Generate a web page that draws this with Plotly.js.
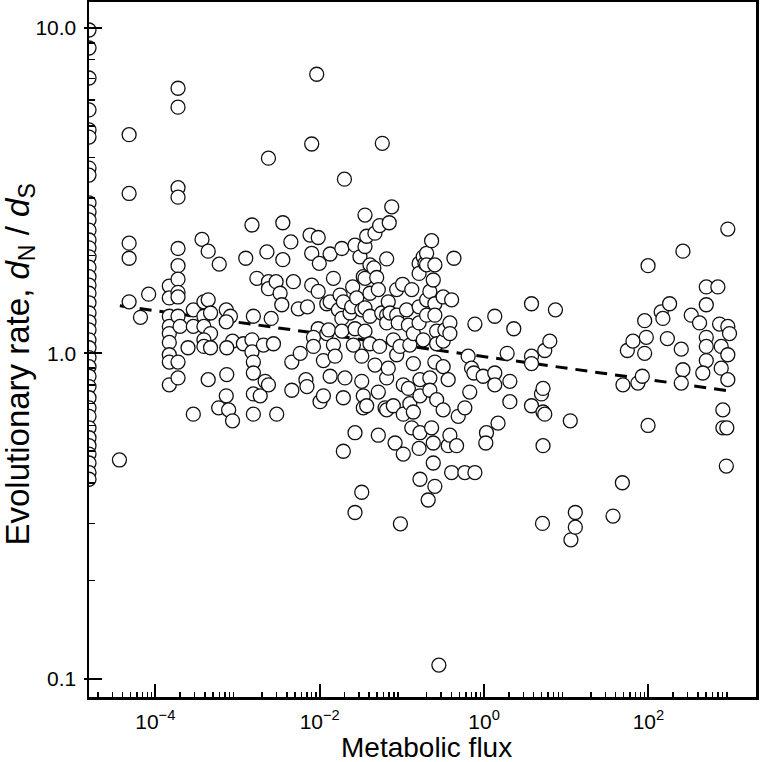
<!DOCTYPE html>
<html>
<head>
<meta charset="utf-8">
<script src="https://cdn.plot.ly/plotly-3.0.1.min.js"></script>
<style>html,body{margin:0;padding:0;background:#fff;}#chart{width:760px;height:762px;}</style>
</head>
<body>
<div id="chart"></div>
<script>
// Points whose flux lies at/below the left end of the axis (drawn on the axis line)
const edgeFlux = 1.56e-5;
const edgeRate = [9.86, 8.68, 7.02, 5.60, 4.86, 4.62, 3.71, 3.53, 2.90, 2.72, 2.57, 2.39, 2.23, 2.11,
  1.98, 1.84, 1.72, 1.62, 1.53, 1.43, 1.33, 1.25, 1.18, 1.10, 1.04, 0.97, 0.91, 0.85, 0.79, 0.73,
  0.68, 0.64, 0.59, 0.55, 0.52, 0.49, 0.46, 0.43, 0.41];

// Metabolic flux of each enzyme
const flux = [
  3.66e-5, 4.8e-5, 4.8e-5, 4.8e-5, 4.8e-5, 4.8e-5, 6.6e-5, 8.3e-5,
  1.48e-4, 1.48e-4, 1.48e-4, 1.48e-4, 1.48e-4, 1.48e-4, 1.48e-4, 1.48e-4, 1.48e-4,
  1.89e-4, 1.89e-4, 1.89e-4, 1.89e-4, 1.89e-4, 1.89e-4, 1.89e-4, 1.89e-4, 1.89e-4, 1.89e-4, 1.89e-4, 1.89e-4, 2.0e-4,
  2.5e-4, 2.9e-4, 2.9e-4, 2.9e-4, 3.7e-4, 4.4e-4, 6.0e-4, 3.9e-4, 4.4e-4, 3.9e-4, 4.7e-4, 3.9e-4, 4.7e-4, 3.9e-4,
  3.9e-4, 4.7e-4, 4.4e-4, 7.3e-4, 8.2e-4, 7.3e-4, 8.7e-4, 7.4e-4, 7.4e-4, 7.3e-4, 5.9e-4, 7.8e-4, 8.7e-4,
  1.18e-3, 1.26e-3, 1.5e-3, 1.5e-3, 1.5e-3, 1.56e-3, 1.56e-3, 1.56e-3, 1.56e-3, 1.56e-3, 1.72e-3, 1.89e-3,
  2.07e-3, 2.17e-3, 2.38e-3, 2.28e-3, 2.38e-3, 2.38e-3, 2.38e-3, 2.57e-3, 2.74e-3, 2.95e-3, 3.0e-3, 3.3e-3,
  3.46e-3, 3.56e-3, 3.56e-3, 4.46e-3, 4.58e-3, 4.58e-3, 4.79e-3, 5.5e-3, 5.8e-3, 6.8e-3, 7.0e-3, 7.1e-3,
  7.64e-3, 8.0e-3, 8.0e-3, 8.0e-3, 9.2e-3, 9.6e-3, 9.9e-3, 9.6e-3, 9.6e-3, 8.4e-3, 8.4e-3, 1.01e-2, 1.11e-2, 1.11e-2,
  1.22e-2, 1.22e-2, 1.28e-2, 1.34e-2, 1.34e-2, 1.34e-2, 1.47e-2, 1.47e-2, 1.54e-2, 1.77e-2, 1.69e-2, 1.86e-2,
  1.86e-2, 1.86e-2, 1.94e-2, 1.94e-2, 1.94e-2, 2.0e-2, 2.03e-2, 2.34e-2, 2.45e-2, 2.52e-2, 2.57e-2, 2.69e-2,
  2.69e-2, 2.69e-2, 2.69e-2, 2.82e-2, 3.09e-2, 3.25e-2, 3.25e-2, 3.25e-2, 3.25e-2, 3.39e-2, 3.39e-2, 3.39e-2,
  3.56e-2, 3.56e-2, 3.56e-2, 3.56e-2, 3.56e-2, 3.73e-2, 3.73e-2, 4.09e-2, 4.09e-2, 4.09e-2, 4.09e-2, 4.56e-2,
  4.7e-2, 4.71e-2, 4.94e-2, 5.17e-2, 5.17e-2, 5.17e-2, 5.36e-2, 5.36e-2, 5.69e-2, 5.78e-2, 6.24e-2, 6.53e-2,
  6.53e-2, 6.53e-2, 6.53e-2, 6.53e-2, 6.83e-2, 6.83e-2, 7.02e-2, 7.17e-2, 7.53e-2, 7.87e-2, 7.87e-2, 8.27e-2,
  8.65e-2, 8.65e-2, 8.65e-2, 9.03e-2, 9.48e-2, 9.6e-2,
  0.102, 0.104, 0.104, 0.104, 0.114, 0.120, 0.120, 0.125, 0.125, 0.132, 0.132, 0.138, 0.138, 0.138,
  0.162, 0.162, 0.162, 0.162, 0.162, 0.166, 0.166, 0.166, 0.166, 0.182, 0.182, 0.191, 0.20, 0.20, 0.20, 0.20,
  0.209, 0.219, 0.219, 0.219, 0.230, 0.230, 0.241, 0.241, 0.241, 0.252, 0.252, 0.252, 0.252, 0.252,
  0.265, 0.265, 0.265, 0.282, 0.318, 0.318, 0.318, 0.318, 0.334, 0.366, 0.366, 0.384, 0.384, 0.384,
  0.403, 0.403, 0.430, 0.463, 0.485, 0.584, 0.584, 0.641, 0.670, 0.705, 0.752, 0.774, 0.774, 0.975, 1.07, 1.05,
  1.35, 1.35, 1.35, 1.48, 1.91, 2.06, 2.06, 2.30, 3.78, 3.78, 3.78, 3.78, 5.0, 5.22, 5.22, 5.48, 5.22, 5.14,
  5.48, 6.31, 7.39, 11.2, 11.4, 12.9, 12.9, 37.1, 48.2, 49, 55.4, 64.8, 74.5, 84.3, 90, 94.3, 90, 99, 99,
  143, 150, 181, 170, 251, 263, 251, 263, 332, 419, 506, 506, 506, 506, 506, 459, 700, 734, 769, 769,
  805, 805, 900, 887, 925, 925, 970, 925, 925
];

// Evolutionary rate dN/dS of each enzyme
const rate = [
  0.47, 4.7, 3.1, 2.18, 1.96, 1.44, 1.29, 1.52,
  1.61, 1.48, 1.30, 1.21, 1.15, 1.08, 0.99, 0.94, 0.80,
  6.53, 5.71, 3.23, 3.02, 2.10, 1.86, 1.69, 1.54, 1.49, 1.30, 0.94, 0.84, 1.21,
  1.04, 1.36, 1.21, 0.65, 2.24, 2.06, 1.88, 1.44, 1.46, 1.30, 1.33, 1.21, 1.15, 1.10,
  1.05, 1.04, 0.83, 1.36, 1.30, 1.25, 1.09, 1.04, 0.86, 0.74, 0.68, 0.67, 0.62,
  1.07, 1.96, 2.48, 1.10, 1.01, 1.30, 0.94, 0.87, 0.75, 0.65, 1.70, 0.74,
  1.06, 0.82, 0.80, 2.05, 3.98, 1.66, 1.58, 1.28, 1.07, 1.66, 0.65, 1.53,
  1.41, 2.52, 1.94, 2.20, 0.94, 0.77, 1.66, 1.37, 1.00, 0.83, 0.79, 1.39,
  2.31, 2.03, 1.62, 4.40, 7.21, 2.27, 1.89, 1.55, 1.19, 1.12, 1.05, 0.71, 0.95, 0.74,
  1.15, 1.42, 1.18, 2.02, 1.44, 0.85, 1.70, 1.06, 0.98, 1.51, 1.36, 2.10,
  1.28, 1.17, 1.44, 0.73, 0.50, 3.43, 0.84, 1.33, 1.39, 1.60, 1.06, 2.15,
  1.19, 0.57, 0.324, 1.48, 1.98, 1.36, 0.98, 0.82, 0.374, 1.72, 0.74, 0.68,
  2.66, 2.13, 1.70, 1.38, 1.17, 2.29, 0.69, 1.87, 1.53, 1.30, 1.07, 1.83,
  2.34, 0.92, 1.71, 1.57, 0.76, 0.56, 2.47, 1.05, 1.33, 4.42, 0.68, 1.95,
  1.31, 1.24, 0.84, 0.67, 1.44, 0.90, 2.52, 1.33, 2.82, 1.10, 0.69, 0.53,
  1.57, 1.31, 0.99, 1.24, 1.05, 0.299,
  1.63, 0.80, 0.65, 0.49, 1.36, 1.22, 0.78, 1.06, 0.70, 1.57, 0.59, 1.15, 0.93, 0.66,
  1.89, 1.76, 1.39, 1.24, 0.51, 0.83, 0.74, 0.57, 0.41, 1.98, 1.10, 1.89, 2.03, 1.87, 1.46, 1.31,
  0.354, 1.55, 0.84, 0.77, 2.22, 0.59, 1.68, 0.53, 0.46, 1.87, 1.42, 1.31, 0.94, 0.39,
  1.17, 1.07, 0.72, 0.110, 1.49, 1.09, 0.91, 0.67, 1.18, 0.83, 0.52, 1.24, 1.15, 0.56,
  1.46, 0.43, 1.96, 0.52, 0.64, 0.68, 0.43, 0.98, 0.76, 0.90, 0.87, 1.23, 0.43, 0.85, 0.57, 0.53,
  1.30, 0.87, 0.80, 0.61, 1.00, 0.82, 0.71, 1.19, 1.42, 0.98, 0.93, 0.69, 0.75, 0.78, 0.66, 0.65, 0.52, 0.30,
  1.02, 1.09, 1.36, 0.62, 0.267, 0.324, 0.292, 0.316, 0.40, 0.80, 1.02, 1.09, 0.81, 0.85, 1.00, 1.12, 1.26, 1.86, 0.60,
  1.34, 1.28, 1.42, 1.11, 1.03, 0.89, 0.81, 2.06, 1.31, 1.24, 1.60, 1.41, 1.12, 1.05, 0.95, 0.87, 1.60, 1.23, 1.05, 0.90,
  0.67, 0.59, 0.59, 0.45, 2.41, 1.21, 1.15, 0.99, 0.83
];

// Regression (dashed) line end points
const fitFlux = [3.7e-5, 945];
const fitRate = [1.40, 0.767];

// Tick labels and axis titles
const xTickVals = [1e-4, 1e-2, 1, 100];
const xTickText = ['10<sup>\u22124</sup>', '10<sup>\u22122</sup>', '10<sup>0</sup>', '10<sup>2</sup>'];
const yTickVals = [0.1, 1, 10];
const yTickText = ['0.1', '1.0', '10.0'];
const xTitle = 'Metabolic flux';
const yTitle = 'Evolutionary rate, <i>d</i><sub>N</sub> / <i>d</i><sub>S</sub>';

const xMinor = [];
for (let k = -5; k <= 3; k++) for (let m = 2; m <= 9; m++) {
  const v = m * Math.pow(10, k);
  if (v > edgeFlux && v < 2030) xMinor.push(v);
}
const yMinor = [];
for (let k = -1; k <= 0; k++) for (let m = 2; m <= 9; m++) yMinor.push(m * Math.pow(10, k));

const FONT = 'Liberation Sans, Arial, Helvetica, sans-serif';
const marker = {symbol: 'circle', size: 14, color: '#ffffff', line: {color: '#111111', width: 1.3}};
const XR = [Math.log10(edgeFlux), 3.309];
const YR = [-1.0566, 1.080];

const traces = [
  {x: fitFlux, y: fitRate, mode: 'lines', line: {color: '#000', width: 3, dash: '12px,8px'}, hoverinfo: 'skip'},
  {x: edgeRate.map(() => edgeFlux), y: edgeRate, mode: 'markers', marker: marker, cliponaxis: true},
  {x: flux, y: rate, mode: 'markers', marker: marker, cliponaxis: true},
  {x: [], y: [], xaxis: 'x', yaxis: 'y2', mode: 'markers', hoverinfo: 'skip'}
];

const layout = {
  width: 760, height: 762,
  margin: {l: 89, r: 4, t: 2, b: 65},
  paper_bgcolor: '#fff', plot_bgcolor: '#fff',
  showlegend: false,
  font: {family: FONT, color: '#000', size: 21},
  xaxis: {
    type: 'log', range: XR,
    tickmode: 'array', tickvals: xTickVals, ticktext: xTickText,
    ticks: 'inside', ticklen: 13, tickwidth: 2, tickcolor: '#000',
    minor: {tickmode: 'array', tickvals: xMinor, ticks: 'inside', ticklen: 5, tickwidth: 1.5, tickcolor: '#000', showgrid: false},
    showline: true, linewidth: 2.5, linecolor: '#000', mirror: true,
    showgrid: false, zeroline: false,
    ticklabelstandoff: 4,
    tickfont: {family: FONT, size: 21, color: '#000'}
  },
  yaxis: {
    type: 'log', range: YR,
    tickmode: 'array', tickvals: yTickVals, ticktext: yTickText,
    ticks: 'inside', ticklen: 13, tickwidth: 2, tickcolor: '#000',
    minor: {tickmode: 'array', tickvals: yMinor, ticks: 'inside', ticklen: 6, tickwidth: 1.5, tickcolor: '#000', showgrid: false},
    showline: true, linewidth: 2.5, linecolor: '#000', mirror: true,
    showgrid: false, zeroline: false,
    ticklabelstandoff: 6,
    tickfont: {family: FONT, size: 21, color: '#000'}
  },
  yaxis2: {
    type: 'log', range: YR, overlaying: 'y', side: 'left', anchor: 'x',
    tickmode: 'array', tickvals: yTickVals, ticks: 'outside', ticklen: 4, tickwidth: 2, tickcolor: '#000',
    showticklabels: false, showline: false, showgrid: false, zeroline: false
  },
  annotations: [
    {text: xTitle, xref: 'paper', yref: 'paper', x: 0.5, y: 0, xanchor: 'center', yanchor: 'top',
     xshift: 4, yshift: -33, showarrow: false, font: {family: FONT, size: 28, color: '#000'}},
    {text: yTitle, xref: 'paper', yref: 'paper', x: 0, y: 0.5, xanchor: 'center', yanchor: 'middle',
     xshift: -70, yshift: -15, textangle: -90, showarrow: false, font: {family: FONT, size: 33, color: '#000'}}
  ]
};

Plotly.newPlot('chart', traces, layout, {displayModeBar: false, staticPlot: true});
</script>
</body>
</html>
